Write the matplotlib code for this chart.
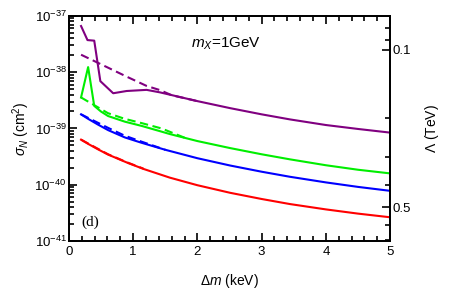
import numpy as np
import matplotlib
matplotlib.use("Agg")
import matplotlib.pyplot as plt
from matplotlib.ticker import FixedLocator, NullFormatter, FixedFormatter, MultipleLocator

plt.rcParams['font.family'] = ['Liberation Sans', 'DejaVu Sans']
plt.rcParams['mathtext.fontset'] = 'custom'
plt.rcParams['mathtext.rm'] = 'Liberation Sans'
plt.rcParams['mathtext.it'] = 'Liberation Sans:italic'
plt.rcParams['mathtext.sf'] = 'Liberation Sans'

# Delta m (keV) and log10(sigma_N / cm^2)
dm_purple = [0.19, 0.29, 0.395, 0.49, 0.69, 0.90, 1.21, 1.42, 1.57, 2.0, 2.51, 3.0, 3.44, 4.0, 4.5, 5.0]
lg_purple = [-37.18, -37.43, -37.44, -38.16, -38.375, -38.335, -38.315, -38.36, -38.40,
             -38.515, -38.64, -38.75, -38.84, -38.94, -39.01, -39.075]
dm_purple_d = [0.19, 0.5, 0.9, 1.21, 1.42, 1.6, 2.0]
lg_purple_d = [-37.69, -37.86, -38.08, -38.245, -38.32, -38.41, -38.515]

dm_green = [0.19, 0.30, 0.395, 0.5, 0.61, 0.87, 1.13, 1.42, 1.57, 2.0, 2.51, 3.0, 3.44, 4.0, 4.5, 5.0]
lg_green = [-38.45, -37.91, -38.60, -38.70, -38.78, -38.88, -38.955, -39.05, -39.10,
            -39.225, -39.35, -39.46, -39.55, -39.655, -39.735, -39.80]
dm_green_d = [0.19, 0.4, 0.61, 0.87, 1.13, 1.44, 1.8]
lg_green_d = [-38.45, -38.59, -38.73, -38.83, -38.905, -39.0, -39.165]

dm_blue = [0.19, 0.3, 0.45, 0.61, 0.87, 1.13, 1.5, 2.0, 2.51, 3.0, 3.44, 4.0, 4.5, 5.0]
lg_blue = [-38.75, -38.83, -38.93, -39.03, -39.16, -39.255, -39.38, -39.53, -39.66,
           -39.77, -39.86, -39.96, -40.04, -40.11]
dm_blue_d = [0.19, 0.4, 0.61, 0.87, 1.13, 1.5]
lg_blue_d = [-38.75, -38.87, -38.99, -39.13, -39.235, -39.38]

dm_red = [0.19, 0.3, 0.45, 0.61, 0.92, 1.16, 1.57, 2.0, 2.51, 3.0, 3.44, 4.0, 4.5, 5.0]
lg_red = [-39.20, -39.275, -39.37, -39.465, -39.615, -39.72, -39.875, -40.01, -40.145,
          -40.255, -40.345, -40.44, -40.515, -40.58]
dm_red_d = [0.19, 0.61, 0.92, 1.16]
lg_red_d = [-39.20, -39.46, -39.61, -39.715]

# right axis: Lambda ~ sigma^(-1/4), Lambda = 0.1 TeV at sigma = 2.49e-38 cm^2
sigma_ref = 2.49e-38
lam_major = [0.1, 0.5]
lam_minor = [0.07, 0.08, 0.09, 0.2, 0.3, 0.4, 0.6, 0.7]

sig_major = [1e-41, 1e-40, 1e-39, 1e-38, 1e-37]
sig_minor = [m * 10.0 ** e for e in range(-41, -37) for m in range(2, 10)]

fig = plt.figure(figsize=(4.59, 3.0), dpi=100)
ax = fig.add_axes([0.150, 0.197, 0.700, 0.750])

lw = 1.5
ax.plot(dm_purple, 10.0 ** np.array(lg_purple), color='#800080', lw=lw)
ax.plot(dm_purple_d, 10.0 ** np.array(lg_purple_d), color='#800080', lw=lw, dashes=(4, 2.2))
ax.plot(dm_green, 10.0 ** np.array(lg_green), color='#00ee00', lw=lw)
ax.plot(dm_green_d, 10.0 ** np.array(lg_green_d), color='#00ee00', lw=lw, dashes=(4, 2.2))
ax.plot(dm_blue, 10.0 ** np.array(lg_blue), color='#0000ff', lw=lw)
ax.plot(dm_blue_d, 10.0 ** np.array(lg_blue_d), color='#0000ff', lw=lw, dashes=(4, 2.2))
ax.plot(dm_red, 10.0 ** np.array(lg_red), color='#ff0000', lw=lw)
ax.plot(dm_red_d, 10.0 ** np.array(lg_red_d), color='#ff0000', lw=lw, dashes=(4, 2.2))

ax.set_yscale('log')
ax.set_xlim(0, 5)
ax.set_ylim(1e-41, 1e-37)
ax.xaxis.set_major_locator(MultipleLocator(1))
ax.xaxis.set_minor_locator(MultipleLocator(0.2))
ax.yaxis.set_major_locator(FixedLocator(sig_major))
ax.yaxis.set_minor_locator(FixedLocator(sig_minor))
ax.yaxis.set_minor_formatter(NullFormatter())

for s in ax.spines.values():
    s.set_linewidth(1.3)
ax.tick_params(which='both', direction='in', top=True, right=False, width=1.2, labelsize=9.5)
ax.tick_params(which='major', length=6)
ax.tick_params(which='minor', length=3.5)
ax.tick_params(axis='y', pad=1.5)

ax.set_xlabel(r'$\Delta m$ (keV)', fontsize=10, labelpad=10)
ax.set_ylabel(r'$\sigma_N$ (cm$^2$)', fontsize=10, labelpad=2)

ax.text(0.38, 0.875, r'$m_X$=1GeV', transform=ax.transAxes, fontsize=11, ha='left', va='center')
ax.text(0.04, 0.085, '(d)', transform=ax.transAxes, fontsize=11,
        family=['Liberation Serif', 'DejaVu Serif'], ha='left', va='center')

# secondary axis for Lambda
ax2 = ax.twinx()
ax2.set_yscale('log')
y0, y1 = ax.get_ylim()
ax2.set_ylim(0.1 * (y0 / sigma_ref) ** -0.25, 0.1 * (y1 / sigma_ref) ** -0.25)
ax2.yaxis.set_major_locator(FixedLocator(lam_major))
ax2.yaxis.set_major_formatter(FixedFormatter([str(v) for v in lam_major]))
ax2.yaxis.set_minor_locator(FixedLocator(lam_minor))
ax2.yaxis.set_minor_formatter(NullFormatter())
ax2.tick_params(which='both', direction='in', width=1.2, labelsize=9.5)
ax2.tick_params(which='major', length=6, pad=2)
ax2.tick_params(which='minor', length=3.5)
for s in ax2.spines.values():
    s.set_linewidth(1.3)
ax2.set_ylabel(r'$\Lambda$ (TeV)', fontsize=10, labelpad=8)

fig.savefig('out.png', dpi=100)
